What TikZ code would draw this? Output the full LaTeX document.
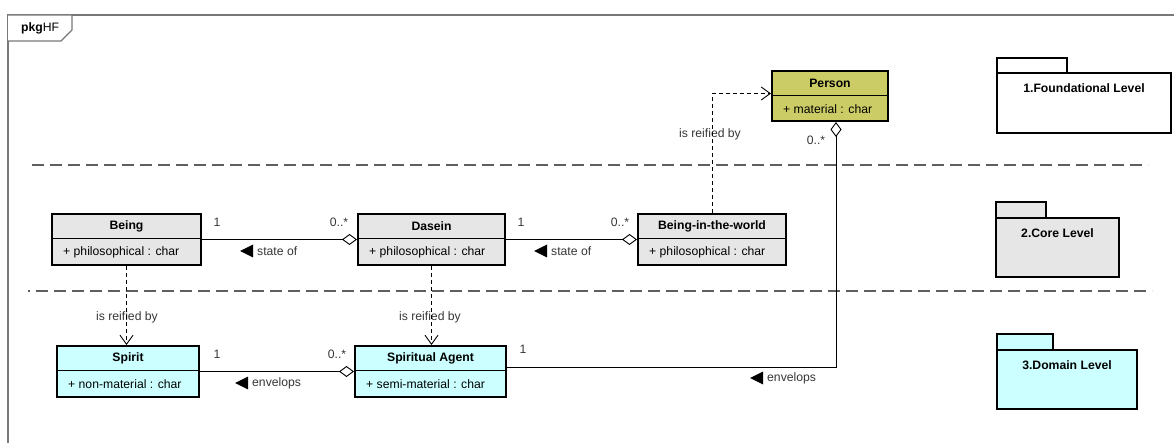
\documentclass[tikz,border=0pt]{standalone}
\usepackage{fontspec}
\setmainfont{Liberation Sans}
\usetikzlibrary{arrows.meta,calc}

\definecolor{persfill}{RGB}{204,204,102}
\definecolor{corefill}{RGB}{230,230,230}
\definecolor{domfill}{RGB}{204,255,255}
\definecolor{lblgray}{RGB}{55,55,55}
\definecolor{sepgray}{RGB}{95,95,95}
\definecolor{framegray}{RGB}{120,120,120}

\tikzset{
  classbox/.style={draw=black, line width=2pt, inner sep=0pt, rectangle},
  pkgbox/.style={draw=black, line width=2pt, inner sep=0pt, rectangle},
  divline/.style={line width=0.9pt, black},
  ctitle/.style={font=\fontsize{12.2}{14}\selectfont\bfseries, inner sep=0pt},
  cattr/.style={font=\fontsize{12.2}{14}\selectfont, inner sep=0pt, anchor=west},
  mult/.style={font=\fontsize{12.2}{14}\selectfont, text=lblgray, inner sep=0pt},
  lbl/.style={font=\fontsize{12.2}{14}\selectfont, text=lblgray, inner sep=0pt},
  dirtri/.style={fill=black},
  assoc/.style={line width=0.9pt, black},
  agg/.style={assoc, {Diamond[fill=white, length=15pt, width=11pt, line width=0.9pt]}-},
  reify/.style={line width=0.9pt, black, dash pattern=on 4pt off 3pt,
    -{Straight Barb[length=9pt, width=13pt, line width=0.9pt]}},
  sepline/.style={line width=1.3pt, sepgray, dash pattern=on 12pt off 6pt},
  frameline/.style={line width=1.2pt, framegray},
}

% UML class: name, x1, y1, x2, y2, fill, title, attribute
\newcommand\umlclass[8]{%
  \node[classbox, fill=#6, minimum width={#4-#2}, minimum height={#5-#3}]
    (#1) at ({(#2+#4)/2},{(#3+#5)/2}) {};
  \draw[divline] (#2,{#3+24.5}) -- (#4,{#3+24.5});
  \node[ctitle] (#1-t) at ({(#2+#4)/2},{#3+12.5}) {#7};
  \node[cattr] (#1-a) at ({#2+11},{#3+38}) {#8};
}

% UML package: name, x1, tab top, tab right, body top, x2, bottom, fill, title
\newcommand\umlpkg[9]{%
  \draw[pkgbox, fill=#8] (#2,#3) rectangle (#4,#5);
  \node[pkgbox, fill=#8, minimum width={#6-#2}, minimum height={#7-#5}]
    (#1) at ({(#2+#6)/2},{(#5+#7)/2}) {};
  \node[ctitle] (#1-t) at ({(#2+#6)/2},{#5+15}) {#9};
}

% association name with a reading-direction triangle in front of it
\newcommand\assocname[3]{%
  \node[lbl, anchor=west] (#1) at (#2) {#3};
  \fill[dirtri] ([xshift=-17pt]#1.west) -- ++(13,-6.5) -- ++(0,13) -- cycle;
}

\begin{document}
\begin{tikzpicture}[x=1pt, y=-1pt]
  \useasboundingbox (0,0) rectangle (1174,443);
  \fill[white] (0,0) rectangle (1174,443);

  % diagram frame with its name tab
  \draw[frameline] (8,443) -- (8,15) -- (1174,15);
  \draw[frameline, fill=white] (8,15) -- (72,15) -- (72,30) -- (61,41) -- (8,41);
  \node[lbl, text=black, anchor=west] (frametitle) at (21,28.5) {\textbf{pkg}HF};

  % level separators
  \draw[sepline] (32,165) -- (1148,165);
  \draw[sepline, dash phase=10pt] (28,291) -- (1152,291);

  % classes
  \umlclass{Person}{772}{71}{888}{121}{persfill}{Person}{+ material : char}
  \umlclass{Being}{52}{214}{201}{265}{corefill}{Being}{+ philosophical : char}
  \umlclass{Dasein}{358}{214}{505}{265}{corefill}{Dasein}{+ philosophical : char}
  \umlclass{BitW}{638}{214}{786}{265}{corefill}{Being-in-the-world}{+ philosophical : char}
  \umlclass{Spirit}{57}{346}{199}{397}{domfill}{Spirit}{+ non-material : char}
  \umlclass{Agent}{355}{346}{506}{397}{domfill}{Spiritual Agent}{+ semi-material : char}

  % level packages
  \umlpkg{Found}{997}{58}{1067}{73}{1171}{133}{white}{1.Foundational Level}
  \umlpkg{Core}{996}{202}{1046}{218}{1119}{277}{corefill}{2.Core Level}
  \umlpkg{Domain}{997}{334}{1053}{350}{1137}{409}{domfill}{3.Domain Level}

  % "state of" associations
  \draw[agg] (Dasein.west) -- (Being.east);
  \node[mult] (m1) at (217,222) {1};
  \node[mult] (m2) at (339,222) {0..*};
  \assocname{so1}{257,251}{state of}

  \draw[agg] (BitW.west) -- (Dasein.east);
  \node[mult] (m3) at (521,222) {1};
  \node[mult] (m4) at (620,222) {0..*};
  \assocname{so2}{551,251}{state of}

  % "envelops" associations
  \draw[agg] (Agent.west) -- (Spirit.east);
  \node[mult] (m5) at (217,354) {1};
  \node[mult] (m6) at (337,354) {0..*};
  \assocname{en1}{252,383}{envelops}

  \draw[agg] ([xshift=6pt]Person.south) |- ([yshift=4.5pt]Agent.east);
  \node[mult] (m7) at (523,349) {1};
  \node[mult] (m8) at (816,140) {0..*};
  \assocname{en2}{767,378}{envelops}

  % reification dependencies
  \node[lbl] (r1) at (127,317) {is reified by};
  \node[lbl] (r2) at (430,317) {is reified by};
  \node[lbl] (r3) at (710,134) {is reified by};
  \draw[reify] (Being.south) -- (Being.south |- Spirit.north);
  \draw[reify] (Dasein.south) -- (Dasein.south |- Agent.north);
  \draw[reify] (BitW.north) |- ([yshift=2.5pt]Person.west);
\end{tikzpicture}
\end{document}
